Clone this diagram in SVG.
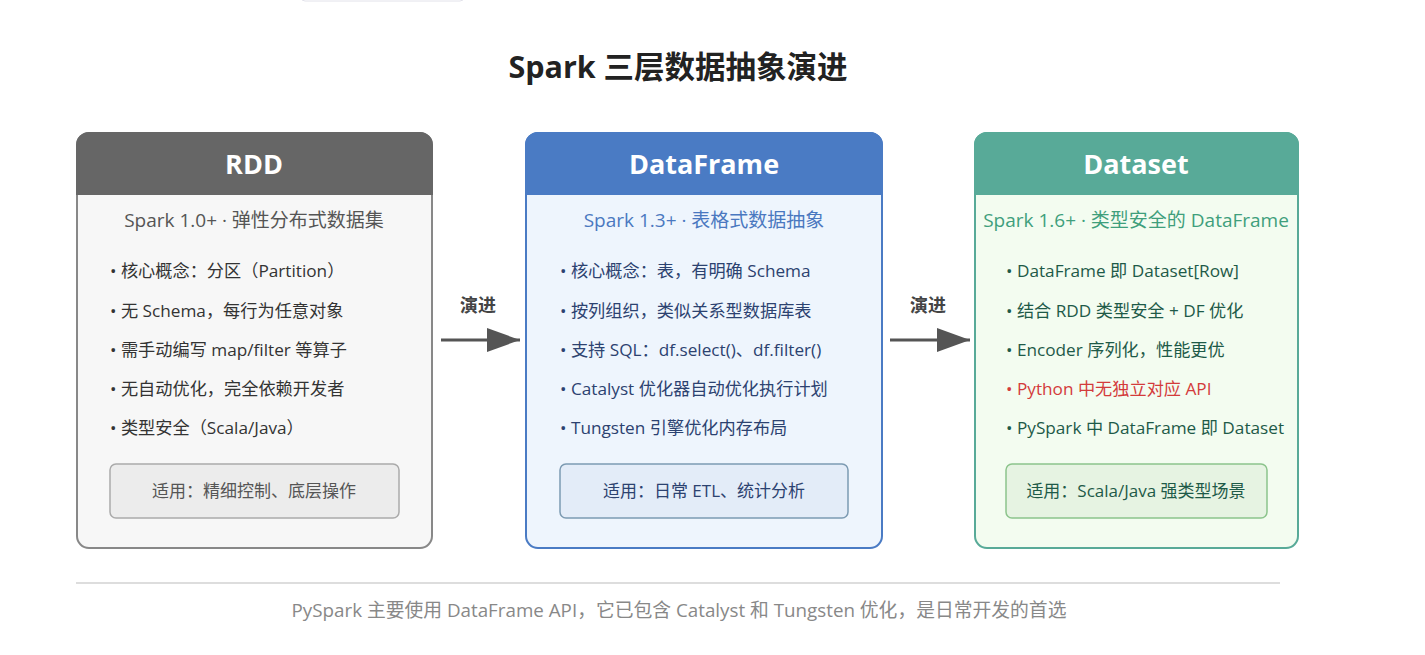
<svg xmlns="http://www.w3.org/2000/svg" width="1425" height="655" viewBox="0 0 1425 655">
<style>
text{font-family:"Open Sans","Noto Sans CJK SC",sans-serif;}
.title{font-size:30.5px;font-weight:700;fill:#222;text-anchor:middle;}
.hdr{font-size:27px;font-weight:700;fill:#fff;text-anchor:middle;}
.sub{font-size:19px;text-anchor:middle;}
.item{font-size:17.2px;}
.use{font-size:17px;text-anchor:middle;}
.lbl{font-size:18px;font-weight:700;fill:#444;text-anchor:middle;}
.foot{font-size:18.8px;fill:#888;text-anchor:middle;}
</style>
<defs>
<marker id="ah" markerWidth="34" markerHeight="24" refX="33" refY="12" orient="auto" markerUnits="userSpaceOnUse">
<path d="M0,0 L33,12 L0,24 Z" fill="#555"/>
</marker>
</defs>
<rect width="1425" height="655" fill="#fff"/>
<rect x="301" y="-20" width="163" height="21" rx="4" fill="#fff" stroke="#e2e2ea" stroke-width="1"/>
<text class="title" x="678" y="78">Spark 三层数据抽象演进</text>

<g id="rdd">
<rect x="77" y="133" width="355" height="415" rx="12" fill="#f7f7f7" stroke="#888" stroke-width="2"/>
<path d="M77,194 V145 A12,12 0 0 1 89,133 H420 A12,12 0 0 1 432,145 V194 Z" fill="#666" stroke="#666" stroke-width="2"/>
<text class="hdr" x="254" y="174">RDD</text>
<text class="sub" x="254" y="227" fill="#555">Spark 1.0+ · 弹性分布式数据集</text>
<g class="item" fill="#333">
<text x="110" y="277">• 核心概念：分区（Partition）</text>
<text x="110" y="317">• 无 Schema，每行为任意对象</text>
<text x="110" y="356">• 需手动编写 map/filter 等算子</text>
<text x="110" y="395">• 无自动优化，完全依赖开发者</text>
<text x="110" y="434">• 类型安全（Scala/Java）</text>
</g>
<rect x="110" y="464" width="289" height="54" rx="6" fill="#ececec" stroke="#aaa" stroke-width="1.5"/>
<text class="use" x="254" y="497" fill="#555">适用：精细控制、底层操作</text>
</g>

<g id="dataframe">
<rect x="526" y="133" width="356" height="415" rx="12" fill="#eef5fd" stroke="#4a7bc4" stroke-width="2"/>
<path d="M526,194 V145 A12,12 0 0 1 538,133 H870 A12,12 0 0 1 882,145 V194 Z" fill="#4a7bc4" stroke="#4a7bc4" stroke-width="2"/>
<text class="hdr" x="704" y="174">DataFrame</text>
<text class="sub" x="704" y="227" fill="#4a78c0">Spark 1.3+ · 表格式数据抽象</text>
<g class="item" fill="#2c4270">
<text x="560" y="277">• 核心概念：表，有明确 Schema</text>
<text x="560" y="317">• 按列组织，类似关系型数据库表</text>
<text x="560" y="356">• 支持 SQL：df.select()、df.filter()</text>
<text x="560" y="395">• Catalyst 优化器自动优化执行计划</text>
<text x="560" y="434">• Tungsten 引擎优化内存布局</text>
</g>
<rect x="560" y="464" width="288" height="54" rx="6" fill="#e3ecf8" stroke="#7c9ab2" stroke-width="1.5"/>
<text class="use" x="704" y="497" fill="#2c4270">适用：日常 ETL、统计分析</text>
</g>

<g id="dataset">
<rect x="975" y="133" width="323" height="415" rx="12" fill="#f3fcf0" stroke="#58aa98" stroke-width="2"/>
<path d="M975,194 V145 A12,12 0 0 1 987,133 H1286 A12,12 0 0 1 1298,145 V194 Z" fill="#58aa98" stroke="#58aa98" stroke-width="2"/>
<text class="hdr" x="1136" y="174">Dataset</text>
<text class="sub" x="1136" y="227" fill="#3f9f7c">Spark 1.6+ · 类型安全的 DataFrame</text>
<g class="item" fill="#1e5a48">
<text x="1006" y="277">• DataFrame 即 Dataset[Row]</text>
<text x="1006" y="317">• 结合 RDD 类型安全 + DF 优化</text>
<text x="1006" y="356">• Encoder 序列化，性能更优</text>
<text x="1006" y="395" fill="#d33b3b">• Python 中无独立对应 API</text>
<text x="1006" y="434">• PySpark 中 DataFrame 即 Dataset</text>
</g>
<rect x="1006" y="464" width="261" height="54" rx="6" fill="#e6f3e2" stroke="#8cc48c" stroke-width="1.5"/>
<text class="use" x="1136" y="497" fill="#1e5a48">适用：Scala/Java 强类型场景</text>
</g>

<g id="connectors">
<line x1="441" y1="340" x2="520" y2="340" stroke="#555" stroke-width="3" marker-end="url(#ah)"/>
<text class="lbl" x="478" y="312">演进</text>
<line x1="890" y1="340" x2="970" y2="340" stroke="#555" stroke-width="3" marker-end="url(#ah)"/>
<text class="lbl" x="928" y="312">演进</text>
</g>

<line x1="76" y1="583" x2="1280" y2="583" stroke="#ddd" stroke-width="2"/>
<text class="foot" x="679" y="617">PySpark 主要使用 DataFrame API，它已包含 Catalyst 和 Tungsten 优化，是日常开发的首选</text>
</svg>
